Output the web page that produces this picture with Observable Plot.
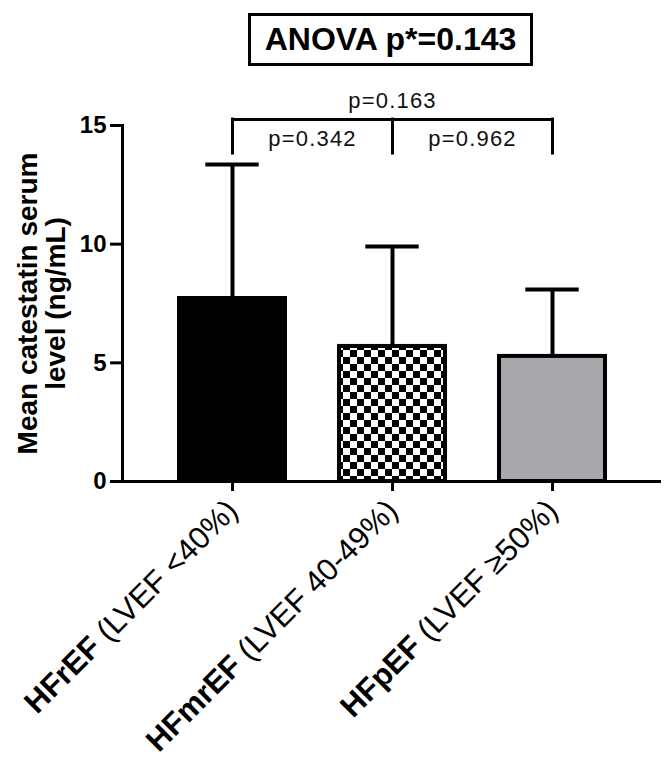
<!DOCTYPE html>
<html><head><meta charset="utf-8">
<script src="https://cdn.jsdelivr.net/npm/d3@7"></script>
<script src="https://cdn.jsdelivr.net/npm/@observablehq/plot@0.6"></script>
<style>
body{margin:0;background:#fff;font-family:"Liberation Sans",Arial,sans-serif;}
#title{position:relative;height:70px;width:670px;}
#title div{position:absolute;left:248px;top:13px;width:285px;height:53px;box-sizing:border-box;border:3px solid #000;font-weight:bold;font-size:32px;display:flex;align-items:center;justify-content:center;color:#000;}
</style></head><body>
<svg width="0" height="0" style="position:absolute">
<defs>
<pattern id="checker" width="14" height="14" patternUnits="userSpaceOnUse">
<rect width="14" height="14" fill="#fff"/>
<rect width="7" height="7" fill="#000"/>
<rect x="7" y="7" width="7" height="7" fill="#000"/>
</pattern>
</defs>
</svg>
<div id="title"><div id="anova"></div></div>
<div id="chart"></div>
<script>
// ---- data ----
const groups = ["HFrEF", "HFmrEF", "HFpEF"];
const groupRanges = [" (LVEF <40%)", " (LVEF 40-49%)", " (LVEF \u226550%)"];
const means = [7.71, 5.69, 5.27];
const sds = [5.65, 4.21, 2.82];
const yTicks = [0, 5, 10, 15];
const yLabel = "Mean catestatin serum\nlevel (ng/mL)";
const anovaText = "ANOVA p*=0.143";
const comparisons = [
  {from: "HFrEF", to: "HFpEF", p: "p=0.163", outer: true},
  {from: "HFrEF", to: "HFmrEF", p: "p=0.342", outer: false},
  {from: "HFmrEF", to: "HFpEF", p: "p=0.962", outer: false}
];
const bracketLevel = 15.25;
const bracketLeg = 13.82;

// ---- styles / layout ----
const barFills = ["#000000", "url(#checker)", "#a7a8ab"];
const W = 670, H = 690, mL = 122, mR = 9, mT = 55, mB = 279;
const padInner = 0.34, padOuter = 0.354;
const step = (W - mL - mR) / (groups.length - padInner + 2 * padOuter);
const bw = step * (1 - padInner);
const capInset = bw / 2 - 26.5;

document.getElementById("anova").textContent = anovaText;

const data = groups.map((g, i) => ({group: g, mean: means[i], sd: sds[i]}));

const textMarks = comparisons.map(c => {
  const span = groups.indexOf(c.to) - groups.indexOf(c.from);
  return Plot.text([c], {
    x: "from", y: bracketLevel, text: "p",
    dx: span * step / 2, dy: c.outer ? -19 : 19,
    fontSize: 22, fill: "#111", className: "pval"
  });
});

const chart = Plot.plot({
  width: W, height: H,
  marginLeft: mL, marginRight: mR, marginTop: mT, marginBottom: mB,
  style: {fontFamily: "Liberation Sans, Arial, sans-serif", color: "#000", background: "#fff", overflow: "visible"},
  x: {domain: groups, paddingInner: padInner, paddingOuter: padOuter, align: 0.5, label: null},
  y: {domain: [0, 15], label: null},
  color: {domain: groups, range: barFills},
  marks: [
    Plot.ruleX(data, {x: "group", y1: "mean", y2: d => d.mean + d.sd, strokeWidth: 4}),
    Plot.tickY(data, {x: "group", y: d => d.mean + d.sd, strokeWidth: 4, insetLeft: capInset, insetRight: capInset}),
    Plot.barY(data, {x: "group", y: "mean", fill: "group", stroke: "#000", strokeWidth: 4}),
    Plot.ruleY([0], {strokeWidth: 3}),
    Plot.frame({anchor: "left", strokeWidth: 3}),
    Plot.axisY({ticks: yTicks, tickSize: 12, tickPadding: 4, fontSize: 24, fontWeight: "bold", strokeWidth: 3, tickFormat: d => String(d), label: null}),
    Plot.axisX({tickSize: 10, tickRotate: -45, fontSize: 31, strokeWidth: 3, tickPadding: 14, label: null}),
    Plot.text([yLabel], {frameAnchor: "left", textAnchor: "middle", rotate: -90, dx: -80, fontSize: 28, fontWeight: "bold", lineHeight: 1.0}),
    Plot.link([comparisons[0]], {x1: "from", x2: "to", y1: bracketLevel, y2: bracketLevel, strokeWidth: 3, strokeLinecap: "square"}),
    Plot.ruleX(groups, {x: d => d, y1: bracketLeg, y2: bracketLevel, strokeWidth: 3, strokeLinecap: "square"}),
    ...textMarks
  ]
});

// letter spacing for p-values
chart.querySelectorAll(".pval text").forEach(t => t.setAttribute("letter-spacing", "1.2"));

// mixed bold / regular x tick labels
chart.querySelectorAll('g[aria-label="x-axis tick label"] text').forEach(t => {
  const name = t.textContent;
  const i = groups.indexOf(name);
  if (i < 0) return;
  t.textContent = "";
  const b = document.createElementNS("http://www.w3.org/2000/svg", "tspan");
  b.setAttribute("font-weight", "bold");
  b.textContent = name;
  const r = document.createElementNS("http://www.w3.org/2000/svg", "tspan");
  r.textContent = groupRanges[i];
  t.appendChild(b);
  t.appendChild(r);
});

document.getElementById("chart").appendChild(chart);
</script>
</body></html>
